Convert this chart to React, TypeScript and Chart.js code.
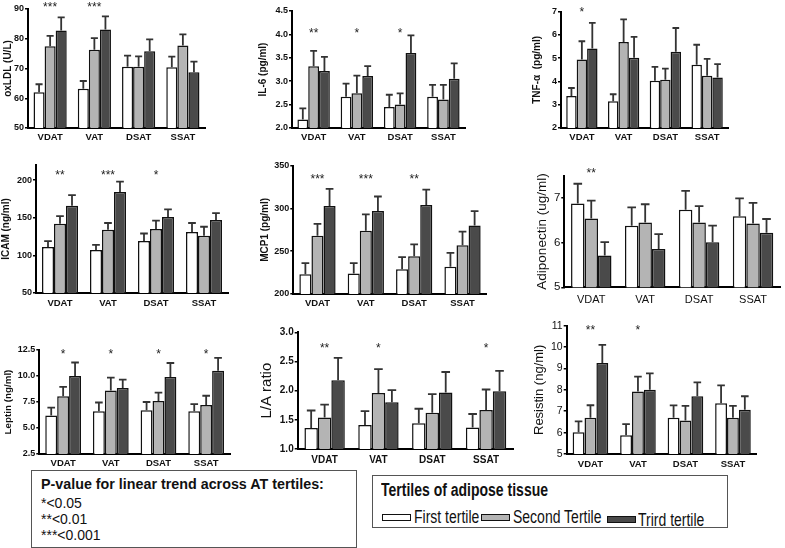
import React, { useEffect, useRef } from 'react';
import { Chart, registerables } from 'chart.js';

Chart.register(...registerables);

const FONT = 'Liberation Sans, Arial, sans-serif';

const tissues = ['VDAT', 'VAT', 'DSAT', 'SSAT'];
const tertiles = ['First tertile', 'Second Tertile', 'Trird tertile'];
const fills = ['#ffffff', '#b4b4b4', '#4a4a4a'];

// bar heights [first, second, third tertile] and top of the error bar for each
const oxldlMeans = [[62.0, 63.2, 70.6, 70.4], [77.5, 76.3, 70.6, 77.7], [82.8, 83.1, 75.8, 68.7]];
const oxldlTops = [[64.7, 65.8, 74.3, 74.0], [81.0, 80.2, 74.1, 81.5], [87.2, 87.5, 79.8, 72.3]];
const oxldlStars = ['***', '***', '', ''];
const oxldlTicks = [50, 60, 70, 80, 90];

const il6Means = [[2.18, 2.67, 2.45, 2.67], [3.32, 2.74, 2.5, 2.61], [3.22, 3.11, 3.6, 3.05]];
const il6Tops = [[2.42, 2.95, 2.71, 2.92], [3.65, 3.12, 2.74, 2.92], [3.52, 3.32, 3.98, 3.38]];
const il6Stars = ['**', '*', '*', ''];
const il6Ticks = [2.0, 2.5, 3.0, 3.5, 4.0, 4.5];

const tnfMeans = [[3.38, 3.15, 4.03, 4.72], [4.95, 5.7, 4.07, 4.25], [5.42, 5.02, 5.28, 4.17]];
const tnfTops = [[3.72, 3.45, 4.63, 5.58], [5.73, 6.67, 4.55, 4.97], [6.52, 5.92, 6.3, 4.75]];
const tnfStars = ['*', '', '', ''];
const tnfTicks = [2, 3, 4, 5, 6, 7];

const icamMeans = [[111, 107, 119, 131], [142, 134, 135, 126], [166, 184, 151, 147]];
const icamTops = [[119, 114, 129, 143], [152, 143, 146, 138], [180, 198, 161, 156]];
const icamStars = ['**', '***', '*', ''];
const icamTicks = [50, 100, 150, 200];

const mcp1Means = [[223, 224, 229, 232], [268, 274, 244, 257], [303, 297, 304, 280]];
const mcp1Tops = [[236, 236, 243, 248], [282, 293, 258, 273], [323, 314, 322, 297]];
const mcp1Stars = ['***', '***', '**', ''];
const mcp1Ticks = [200, 250, 300, 350];

const adipoMeans = [[6.88, 6.38, 6.74, 6.59], [6.54, 6.45, 6.45, 6.43], [5.71, 5.86, 6.01, 6.22]];
const adipoTops = [[7.32, 6.79, 7.16, 6.99], [6.94, 6.86, 6.82, 6.89], [6.01, 6.19, 6.38, 6.53]];
const adipoStars = ['**', '', '', ''];
const adipoTicks = [5, 6, 7];

const leptinMeans = [[6.2, 6.6, 6.7, 6.6], [8.05, 8.6, 7.6, 7.2], [10.0, 8.85, 9.9, 10.5]];
const leptinTops = [[6.95, 7.45, 7.5, 7.3], [8.95, 9.85, 8.4, 8.1], [11.3, 9.65, 11.25, 11.75]];
const leptinStars = ['*', '*', '*', '*'];
const leptinTicks = [2.5, 5.0, 7.5, 10.0, 12.5];

const laMeans = [[1.36, 1.41, 1.44, 1.37], [1.54, 1.96, 1.62, 1.67], [2.18, 1.8, 1.97, 1.99]];
const laTops = [[1.66, 1.65, 1.69, 1.6], [1.76, 2.37, 1.94, 2.02], [2.56, 2.01, 2.32, 2.34]];
const laStars = ['**', '*', '', '*'];
const laTicks = [1.0, 1.5, 2.0, 2.5, 3.0];

const resistinMeans = [[6.02, 5.88, 6.7, 7.37], [6.7, 7.92, 6.57, 6.7], [9.25, 8.0, 7.7, 7.07]];
const resistinTops = [[6.53, 6.4, 7.27, 8.21], [7.28, 8.62, 7.25, 7.25], [10.1, 8.77, 8.35, 7.7]];
const resistinStars = ['**', '*', '', ''];
const resistinTicks = [5, 6, 7, 8, 9, 10, 11];

const bold = (size: number) => ({ family: FONT, size, weight: 'bold' as const });
const plain = (size: number) => ({ family: FONT, size, weight: 'normal' as const });

interface PanelSpec {
  title: string;
  means: number[][];
  tops: number[][];
  stars: string[];
  starAt: number;
  ticks: number[];
  max: number;
  decimals: number;
  box: number[]; // canvas left, top, width, height
  area: number[]; // plot left, top, right, bottom
  titleX: number;
  tickFont: any;
  titleFont: any;
  catFont: any;
  catPad: number;
}

const panels: PanelSpec[] = [
  {
    title: 'oxLDL (U/L)', means: oxldlMeans, tops: oxldlTops, stars: oxldlStars, starAt: 91.7,
    ticks: oxldlTicks, max: 90, decimals: 0,
    box: [0, 0, 250, 150], area: [28, 9, 205, 128], titleX: 8.3,
    tickFont: bold(9), titleFont: bold(10), catFont: bold(9.5), catPad: 4,
  },
  {
    title: 'IL-6 (pg/ml)', means: il6Means, tops: il6Tops, stars: il6Stars, starAt: 4.09,
    ticks: il6Ticks, max: 4.5, decimals: 1,
    box: [250, 0, 270, 150], area: [292, 11, 465, 128], titleX: 263.5,
    tickFont: bold(9), titleFont: bold(10), catFont: bold(9.5), catPad: 4,
  },
  {
    title: 'TNF-\u03b1  (pg/ml)', means: tnfMeans, tops: tnfTops, stars: tnfStars, starAt: 7.1,
    ticks: tnfTicks, max: 7, decimals: 0,
    box: [520, 0, 265, 150], area: [561, 11.7, 728, 128], titleX: 537,
    tickFont: bold(9), titleFont: bold(10), catFont: bold(9.5), catPad: 4,
  },
  {
    title: 'ICAM (ng/ml)', means: icamMeans, tops: icamTops, stars: icamStars, starAt: 211,
    ticks: icamTicks, max: 220, decimals: 0,
    box: [0, 150, 250, 165], area: [36, 165, 228, 293], titleX: 6.5,
    tickFont: bold(9), titleFont: bold(10), catFont: bold(9.5), catPad: 4.8,
  },
  {
    title: 'MCP1 (pg/ml)', means: mcp1Means, tops: mcp1Tops, stars: mcp1Stars, starAt: 338,
    ticks: mcp1Ticks, max: 350, decimals: 0,
    box: [250, 150, 270, 165], area: [293.3, 165.7, 486.7, 294], titleX: 265,
    tickFont: bold(9), titleFont: bold(10), catFont: bold(9.5), catPad: 4,
  },
  {
    title: 'Adiponectin (ug/ml)', means: adipoMeans, tops: adipoTops, stars: adipoStars, starAt: 7.63,
    ticks: adipoTicks, max: 7.5, decimals: 0,
    box: [520, 150, 265, 165], area: [564.3, 175.7, 780, 287.3], titleX: 542.7,
    tickFont: plain(11.5), titleFont: plain(13.5), catFont: plain(11), catPad: 6.5,
  },
  {
    title: 'Leptin (ng/ml)', means: leptinMeans, tops: leptinTops, stars: leptinStars, starAt: 12.43,
    ticks: leptinTicks, max: 12.5, decimals: 1,
    box: [0, 315, 250, 160], area: [39.3, 350, 230, 454], titleX: 8.3,
    tickFont: bold(9), titleFont: bold(9.8), catFont: bold(9.5), catPad: 3.8,
  },
  {
    title: 'L/A ratio', means: laMeans, tops: laTops, stars: laStars, starAt: 2.78,
    ticks: laTicks, max: 3, decimals: 1,
    box: [250, 315, 270, 160], area: [297.7, 332.3, 513, 449], titleX: 267.3,
    tickFont: bold(10), titleFont: plain(15), catFont: bold(10), catPad: 4.8,
  },
  {
    title: 'Resistin (ng/ml)', means: resistinMeans, tops: resistinTops, stars: resistinStars, starAt: 10.93,
    ticks: resistinTicks, max: 11, decimals: 0,
    box: [520, 315, 265, 160], area: [566.7, 325.7, 756.7, 454], titleX: 539.3,
    tickFont: plain(10.5), titleFont: plain(13), catFont: bold(9.5), catPad: 4.8,
  },
];

const Panel: React.FC<{ spec: PanelSpec }> = ({ spec }) => {
  const canvasRef = useRef<HTMLCanvasElement>(null);

  useEffect(() => {
    if (!canvasRef.current) return;
    const [cl, ct, cw, ch] = spec.box;
    const [al, at, ar, ab] = spec.area;
    const titlePad = Math.max(0, spec.titleX - cl - spec.titleFont.size * 0.6);
    const starSize = 12;

    // error bars (upper only) and trend stars
    const overlay = {
      id: 'errorsAndStars',
      afterDatasetsDraw(chart: any) {
        const { ctx } = chart;
        const xs = chart.scales.x;
        const ys = chart.scales.y;
        ctx.save();
        ctx.strokeStyle = '#333';
        ctx.lineWidth = 1.8;
        spec.tops.forEach((tops, di) => {
          chart.getDatasetMeta(di).data.forEach((bar: any, j: number) => {
            const yt = ys.getPixelForValue(tops[j]);
            const cap = bar.width * 0.32;
            ctx.beginPath();
            ctx.moveTo(bar.x, bar.y);
            ctx.lineTo(bar.x, yt);
            ctx.moveTo(bar.x - cap, yt);
            ctx.lineTo(bar.x + cap, yt);
            ctx.stroke();
          });
        });
        ctx.fillStyle = '#222';
        ctx.font = `${starSize}px ${FONT}`;
        ctx.textAlign = 'center';
        ctx.textBaseline = 'alphabetic';
        spec.stars.forEach((s, j) => {
          if (!s) return;
          ctx.fillText(s, xs.getPixelForValue(j), ys.getPixelForValue(spec.starAt) + starSize * 0.58);
        });
        ctx.restore();
      },
    };

    const chart = new Chart(canvasRef.current, {
      type: 'bar',
      data: {
        labels: tissues,
        datasets: spec.means.map((m, i) => ({
          label: tertiles[i],
          data: m,
          backgroundColor: fills[i],
          borderColor: '#111',
          borderWidth: 1.5,
          barPercentage: 1,
          categoryPercentage: 0.75,
        })),
      },
      options: {
        responsive: false,
        animation: false,
        layout: { padding: { left: 0, top: at - ct, right: cl + cw - ar, bottom: 0 } },
        plugins: { legend: { display: false }, tooltip: { enabled: false } },
        scales: {
          x: {
            grid: { display: false, drawTicks: false, tickLength: 0 },
            border: { display: true, color: '#000', width: 2 },
            ticks: { color: '#111', font: spec.catFont, padding: spec.catPad, maxRotation: 0, autoSkip: false },
            afterFit: (s: any) => { s.height = ct + ch - ab; },
          },
          y: {
            min: spec.ticks[0],
            max: spec.max,
            afterBuildTicks: (axis: any) => { axis.ticks = spec.ticks.map((v) => ({ value: v })); },
            grid: { display: true, drawOnChartArea: false, drawTicks: true, tickLength: 3, color: '#000', lineWidth: 1.5 },
            border: { display: true, color: '#000', width: 2 },
            ticks: {
              color: '#111', font: spec.tickFont, padding: 1,
              callback: (v: any) => Number(v).toFixed(spec.decimals),
            },
            title: {
              display: true, text: spec.title, color: '#111', font: spec.titleFont,
              padding: { top: titlePad, bottom: 0 },
            },
            afterFit: (s: any) => { s.width = al - cl; },
          },
        },
      },
      plugins: [overlay],
    });

    return () => {
      chart.destroy();
    };
  }, [spec]);

  const [cl, ct, cw, ch] = spec.box;
  return (
    <canvas
      ref={canvasRef}
      width={cw}
      height={ch}
      style={{ position: 'absolute', left: cl, top: ct, width: cw, height: ch }}
    />
  );
};

const narrow = (size: number, weight: string, left: number, top: number, text: string) => (
  <span
    style={{
      position: 'absolute', left, top, fontSize: size, fontWeight: weight as any, lineHeight: '20px',
      whiteSpace: 'nowrap', transform: 'scaleX(0.8)', transformOrigin: '0 50%', color: '#111',
    }}
  >
    {text}
  </span>
);

const swatch = (left: number, top: number, fill: string) => (
  <div
    style={{
      position: 'absolute', left, top, width: 29, height: 7, boxSizing: 'border-box',
      border: '1.5px solid #111', background: fill,
    }}
  />
);

const App: React.FC = () => {
  const trendLines = ['*<0.05', '**<0.01', '***<0.001'];
  return (
    <div
      style={{
        position: 'absolute', left: 0, top: 0, width: 785, height: 548, overflow: 'hidden',
        background: '#fff', fontFamily: FONT,
      }}
    >
      {panels.map((p) => (
        <Panel key={p.title} spec={p} />
      ))}

      <div
        style={{
          position: 'absolute', left: 31, top: 470, width: 326, height: 78, boxSizing: 'border-box',
          border: '1px solid #555', background: '#fff',
        }}
      >
        <div style={{ position: 'absolute', left: 9, top: 5, fontSize: 14.3, fontWeight: 'bold', lineHeight: '16px', whiteSpace: 'nowrap', color: '#111' }}>
          P-value for linear trend across AT tertiles:
        </div>
        {trendLines.map((t, i) => (
          <div
            key={t}
            style={{ position: 'absolute', left: 9, top: 24 + i * 16, fontSize: 14, lineHeight: '16px', whiteSpace: 'nowrap', color: '#111' }}
          >
            {t}
          </div>
        ))}
      </div>

      <div
        style={{
          position: 'absolute', left: 372, top: 475, width: 356, height: 53, boxSizing: 'border-box',
          border: '1px solid #555', background: '#fff',
        }}
      >
        {narrow(17.5, 'bold', 8, 4, 'Tertiles of adipose tissue')}
        {swatch(9, 37.5, fills[0])}
        {narrow(17.5, 'normal', 41, 31, tertiles[0])}
        {swatch(108, 37.5, fills[1])}
        {narrow(17.5, 'normal', 140, 31, tertiles[1])}
        {swatch(234, 40, fills[2])}
        {narrow(17.5, 'normal', 265, 33.5, tertiles[2])}
      </div>
    </div>
  );
};

export default App;
